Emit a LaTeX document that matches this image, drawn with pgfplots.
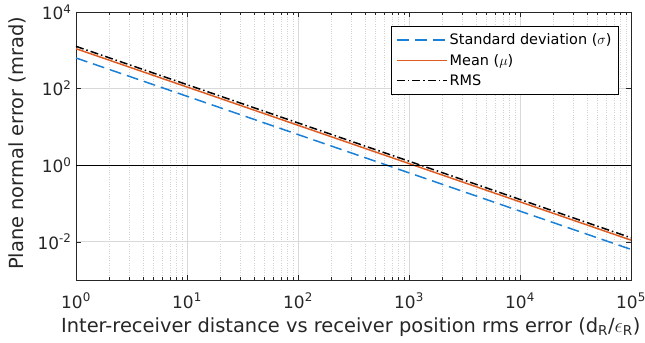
\documentclass[border=0pt]{standalone}
\usepackage{pgfplots}
\pgfplotsset{compat=1.18}
\usepackage{fontspec}
\setmainfont{DejaVu Sans}
\definecolor{mblue}{rgb}{0.1,0.5,0.84}
\definecolor{morange}{rgb}{0.87,0.36,0.13}
\definecolor{axgray}{rgb}{0.15,0.15,0.15}
\begin{document}
\begin{tikzpicture}
\begin{axis}[
  name=ax,
  xmode=log, ymode=log,
  scale only axis, width=555bp, height=268bp,
  xmin=1, xmax=1e5, ymin=1e-3, ymax=1e4,
  xtick={1,10,100,1000,10000,100000},
  xticklabels={10\textsuperscript{0},10\textsuperscript{1},10\textsuperscript{2},10\textsuperscript{3},10\textsuperscript{4},10\textsuperscript{5}},
  ytick={1e-2,1,1e2,1e4},
  yticklabels={10\textsuperscript{-2},10\textsuperscript{0},10\textsuperscript{2},10\textsuperscript{4}},
  ticklabel style={font=\fontsize{17}{19}\selectfont, text=axgray},
  xticklabel style={anchor=base, yshift=-28bp},
  yticklabel style={anchor=east, xshift=-1bp},
  label style={font=\fontsize{19.5}{22}\selectfont, text=axgray},
  xlabel={Inter-receiver distance vs receiver position rms error (d\textsubscript{R}/$\epsilon$\textsubscript{R})},
  ylabel={Plane normal error (mrad)},
  xlabel style={at={(axis description cs:0.495,-0.195)}, anchor=base},
  ylabel style={at={(axis description cs:-0.0937,0.51)}, anchor=base, rotate=0},
  axis line style={axgray},
  tick style={axgray},
  tick align=inside,
  major tick length=5bp, minor tick length=3bp,
  grid=both,
  major grid style={gray!30, line width=0.5pt},
  minor grid style={gray!35, dotted, line width=0.5pt},
  legend style={at={(rel axis cs:0.978,0.946)}, anchor=north east, font=\fontsize{14.5}{16}\selectfont, draw=black, line width=0.6pt, inner xsep=5pt, inner ysep=5pt, row sep=4pt, cells={anchor=west}},
  legend image code/.code={\draw[#1] (0bp,0bp) -- (50bp,0bp);},
  legend cell align=left,
  clip=true,
]
\addplot[mblue, dash pattern=on 12pt off 6pt, line width=1.5pt] coordinates {(1,630) (10,63) (100,6.3) (1000,0.63) (10000,0.063) (100000,0.0063)};
\addlegendentry{Standard deviation ($\sigma$)}
\addplot[morange, line width=1.5pt] coordinates {(1,1100) (10,110) (100,11) (1000,1.1) (10000,0.11) (100000,0.011)};
\addlegendentry{Mean ($\mu$)}
\addplot[black, line width=1.5pt, dash pattern=on 8pt off 3pt on 1.5pt off 3pt] coordinates {(1,1268) (10,126.8) (100,12.68) (1000,1.268) (10000,0.1268) (100000,0.01268)};
\addlegendentry{RMS}
\addplot[black, line width=0.8pt, forget plot] coordinates {(1,1) (100000,1)};
\end{axis}
\pgfresetboundingbox
\useasboundingbox ([xshift=-76bp,yshift=-63bp]ax.south west) rectangle ([xshift=14bp,yshift=12bp]ax.north east);
\end{tikzpicture}
\end{document}
